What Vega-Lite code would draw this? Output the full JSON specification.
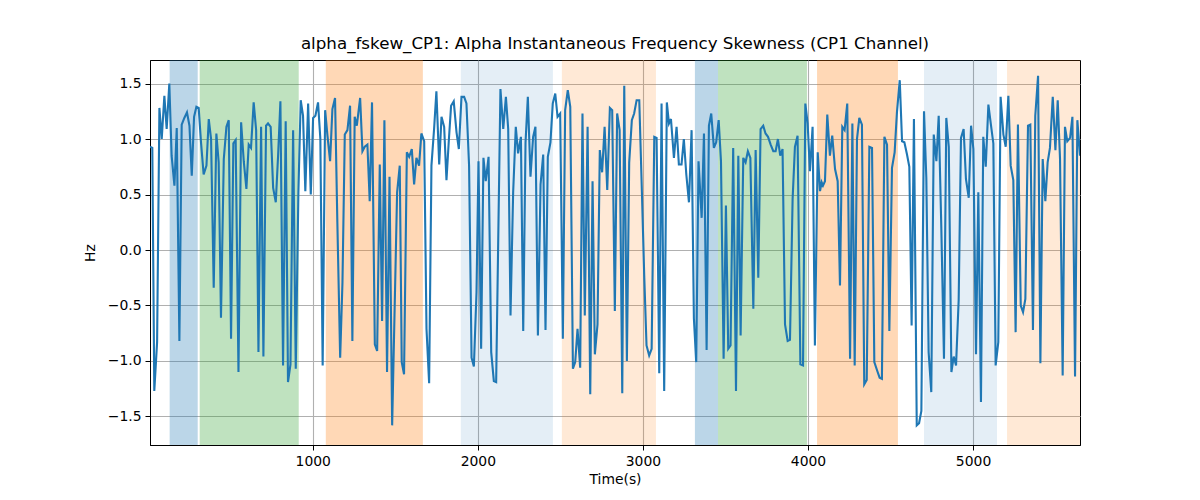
{
  "$schema": "https://vega.github.io/schema/vega-lite/v6.json",
  "width": 930,
  "height": 385,
  "autosize": "none",
  "padding": {"left": 150, "top": 60, "right": 120, "bottom": 55},
  "background": "white",
  "title": {
    "text": "alpha_fskew_CP1: Alpha Instantaneous Frequency Skewness (CP1 Channel)",
    "font": "DejaVu Sans",
    "fontSize": 16.7,
    "fontWeight": "normal",
    "color": "black",
    "anchor": "middle",
    "offset": 7
  },
  "config": {
    "view": {"stroke": "black", "strokeWidth": 1},
    "axis": {
      "labelFont": "DejaVu Sans",
      "titleFont": "DejaVu Sans",
      "labelFontSize": 13.9,
      "titleFontSize": 13.9,
      "titleFontWeight": "normal",
      "labelColor": "black",
      "titleColor": "black",
      "domainColor": "black",
      "tickColor": "black",
      "tickSize": 5,
      "labelPadding": 4,
      "gridColor": "#b0b0b0",
      "gridWidth": 1.1
    }
  },
  "datasets": {
    "bands": [
      {"start": 133, "end": 303, "kind": "blue"},
      {"start": 315, "end": 915, "kind": "green"},
      {"start": 1079, "end": 1667, "kind": "orange"},
      {"start": 1897, "end": 2455, "kind": "lightblue"},
      {"start": 2509, "end": 3079, "kind": "lightorange"},
      {"start": 3315, "end": 3455, "kind": "blue"},
      {"start": 3455, "end": 3994, "kind": "green"},
      {"start": 4055, "end": 4545, "kind": "orange"},
      {"start": 4703, "end": 5145, "kind": "lightblue"},
      {"start": 5206, "end": 5648, "kind": "lightorange"}
    ],
    "series": [
      {"t":14,"v":0.93},{"t":28,"v":0.92},{"t":40,"v":-1.27},{"t":57,"v":-0.83},{"t":71,"v":1.28},{"t":85,"v":1.0},{"t":101,"v":1.39},{"t":115,"v":1.09},{"t":131,"v":1.5},{"t":145,"v":0.85},{"t":162,"v":0.58},{"t":176,"v":1.1},{"t":192,"v":-0.82},{"t":206,"v":1.13},{"t":222,"v":1.19},{"t":238,"v":1.24},{"t":253,"v":1.12},{"t":267,"v":0.67},{"t":281,"v":1.2},{"t":295,"v":1.29},{"t":309,"v":1.28},{"t":323,"v":0.97},{"t":339,"v":0.68},{"t":356,"v":0.76},{"t":370,"v":1.18},{"t":384,"v":1.0},{"t":400,"v":-0.34},{"t":416,"v":1.05},{"t":430,"v":0.79},{"t":444,"v":-0.61},{"t":461,"v":0.82},{"t":477,"v":1.11},{"t":491,"v":1.17},{"t":505,"v":-0.8},{"t":519,"v":0.96},{"t":533,"v":0.99},{"t":550,"v":-1.1},{"t":566,"v":1.15},{"t":582,"v":0.8},{"t":598,"v":0.55},{"t":612,"v":0.95},{"t":626,"v":0.92},{"t":642,"v":1.33},{"t":657,"v":1.08},{"t":671,"v":-0.92},{"t":687,"v":1.11},{"t":701,"v":-0.96},{"t":717,"v":1.12},
      {"t":729,"v":1.14},{"t":745,"v":1.11},{"t":760,"v":0.56},{"t":776,"v":0.43},{"t":790,"v":0.85},{"t":804,"v":1.34},{"t":820,"v":-1.04},{"t":836,"v":1.16},{"t":850,"v":-1.19},{"t":865,"v":-1.03},{"t":881,"v":1.08},{"t":897,"v":-1.07},{"t":913,"v":0.52},{"t":927,"v":1.35},{"t":941,"v":1.21},{"t":955,"v":0.53},{"t":972,"v":1.32},{"t":988,"v":0.5},{"t":1002,"v":1.19},{"t":1016,"v":1.21},{"t":1032,"v":1.33},{"t":1046,"v":1.0},{"t":1060,"v":-1.04},{"t":1075,"v":1.26},{"t":1089,"v":1.03},{"t":1105,"v":0.8},{"t":1119,"v":1.27},{"t":1135,"v":1.37},{"t":1149,"v":0.25},{"t":1166,"v":-0.97},{"t":1180,"v":-0.29},{"t":1194,"v":1.04},{"t":1210,"v":1.08},{"t":1226,"v":1.3},{"t":1240,"v":-0.82},{"t":1254,"v":1.2},{"t":1267,"v":1.12},{"t":1287,"v":1.37},{"t":1301,"v":0.89},{"t":1315,"v":0.93},{"t":1331,"v":0.95},{"t":1345,"v":0.44},{"t":1359,"v":1.33},{"t":1376,"v":-0.85},{"t":1390,"v":-0.91},{"t":1406,"v":0.77},
      {"t":1420,"v":-0.64},{"t":1434,"v":1.17},{"t":1450,"v":-1.1},{"t":1465,"v":0.66},{"t":1481,"v":-1.58},{"t":1511,"v":0.52},{"t":1527,"v":0.76},{"t":1539,"v":-1.01},{"t":1553,"v":-1.12},{"t":1570,"v":0.88},{"t":1584,"v":0.84},{"t":1600,"v":0.91},{"t":1614,"v":0.59},{"t":1628,"v":0.83},{"t":1644,"v":0.76},{"t":1658,"v":1.05},{"t":1675,"v":0.98},{"t":1689,"v":-0.71},{"t":1705,"v":-1.2},{"t":1719,"v":0.76},{"t":1735,"v":1.09},{"t":1749,"v":1.43},{"t":1766,"v":0.77},{"t":1780,"v":1.2},{"t":1796,"v":1.11},{"t":1810,"v":0.63},{"t":1824,"v":0.98},{"t":1838,"v":1.3},{"t":1854,"v":1.34},{"t":1871,"v":1.06},{"t":1885,"v":0.91},{"t":1901,"v":1.38},{"t":1917,"v":1.38},{"t":1931,"v":1.32},{"t":1947,"v":0.76},{"t":1962,"v":-0.97},{"t":1976,"v":-1.05},{"t":1992,"v":-0.38},{"t":2004,"v":0.8},{"t":2020,"v":-0.89},{"t":2034,"v":0.83},{"t":2048,"v":0.62},{"t":2065,"v":0.84},{"t":2081,"v":-0.92},{"t":2097,"v":-1.18},{"t":2111,"v":-1.19},
      {"t":2137,"v":1.45},{"t":2154,"v":1.09},{"t":2170,"v":1.38},{"t":2184,"v":1.09},{"t":2198,"v":-0.59},{"t":2214,"v":0.52},{"t":2230,"v":1.11},{"t":2244,"v":0.87},{"t":2252,"v":0.94},{"t":2261,"v":1.02},{"t":2275,"v":-0.73},{"t":2289,"v":0.97},{"t":2303,"v":1.38},{"t":2319,"v":0.66},{"t":2335,"v":1.02},{"t":2349,"v":1.11},{"t":2364,"v":-0.77},{"t":2380,"v":0.59},{"t":2396,"v":0.86},{"t":2410,"v":-0.72},{"t":2424,"v":0.84},{"t":2440,"v":0.97},{"t":2454,"v":1.32},{"t":2469,"v":1.41},{"t":2483,"v":1.2},{"t":2499,"v":1.23},{"t":2515,"v":-0.8},{"t":2529,"v":1.26},{"t":2545,"v":1.44},{"t":2560,"v":1.29},{"t":2576,"v":-1.07},{"t":2590,"v":-1.01},{"t":2604,"v":-0.71},{"t":2620,"v":-1.06},{"t":2634,"v":1.23},{"t":2648,"v":-0.59},{"t":2665,"v":1.11},{"t":2681,"v":-1.3},{"t":2695,"v":0.62},{"t":2709,"v":-0.94},{"t":2725,"v":-0.67},{"t":2739,"v":0.9},{"t":2753,"v":0.7},{"t":2768,"v":1.11},{"t":2784,"v":0.54},{"t":2800,"v":1.28},{"t":2814,"v":1.26},{"t":2830,"v":-0.55},
      {"t":2844,"v":1.23},{"t":2859,"v":1.08},{"t":2875,"v":-1.29},{"t":2887,"v":1.48},{"t":2903,"v":-1.0},{"t":2917,"v":0.79},{"t":2933,"v":1.17},{"t":2947,"v":1.23},{"t":2962,"v":1.35},{"t":2978,"v":1.35},{"t":2994,"v":0.52},{"t":3008,"v":-0.23},{"t":3022,"v":-0.86},{"t":3038,"v":-0.95},{"t":3053,"v":-0.89},{"t":3069,"v":1.02},{"t":3083,"v":1.01},{"t":3099,"v":-1.11},{"t":3113,"v":1.32},{"t":3129,"v":-1.27},{"t":3145,"v":1.33},{"t":3158,"v":1.14},{"t":3170,"v":1.18},{"t":3188,"v":0.83},{"t":3204,"v":1.11},{"t":3218,"v":0.77},{"t":3234,"v":0.77},{"t":3248,"v":1.0},{"t":3263,"v":0.68},{"t":3279,"v":0.43},{"t":3295,"v":1.08},{"t":3309,"v":-0.62},{"t":3323,"v":-1.01},{"t":3337,"v":0.8},{"t":3356,"v":0.29},{"t":3370,"v":1.05},{"t":3386,"v":-0.9},{"t":3400,"v":1.12},{"t":3414,"v":1.23},{"t":3430,"v":0.92},{"t":3444,"v":0.97},{"t":3459,"v":1.17},{"t":3473,"v":0.8},{"t":3489,"v":-0.98},{"t":3503,"v":0.4},
      {"t":3517,"v":-0.89},{"t":3531,"v":-0.86},{"t":3547,"v":0.92},{"t":3564,"v":-1.27},{"t":3578,"v":0.85},{"t":3592,"v":-0.77},{"t":3608,"v":0.83},{"t":3622,"v":0.79},{"t":3636,"v":0.89},{"t":3651,"v":0.83},{"t":3669,"v":-0.53},{"t":3683,"v":0.9},{"t":3699,"v":-0.25},{"t":3713,"v":1.09},{"t":3729,"v":1.12},{"t":3743,"v":1.05},{"t":3758,"v":1.02},{"t":3774,"v":0.95},{"t":3790,"v":0.89},{"t":3804,"v":0.89},{"t":3818,"v":1.0},{"t":3832,"v":0.85},{"t":3846,"v":0.91},{"t":3861,"v":-0.67},{"t":3877,"v":-0.82},{"t":3891,"v":-0.81},{"t":3907,"v":0.46},{"t":3921,"v":0.93},{"t":3937,"v":1.03},{"t":3954,"v":-1.03},{"t":3970,"v":-1.04},{"t":3984,"v":1.32},{"t":3998,"v":1.14},{"t":4012,"v":0.71},{"t":4028,"v":1.11},{"t":4042,"v":-0.86},{"t":4059,"v":0.88},{"t":4073,"v":0.53},{"t":4083,"v":0.61},{"t":4091,"v":0.58},{"t":4103,"v":0.62},{"t":4117,"v":1.22},{"t":4133,"v":0.85},{"t":4147,"v":1.03},{"t":4164,"v":0.73},{"t":4180,"v":0.62},{"t":4194,"v":-0.32},
      {"t":4208,"v":1.11},{"t":4222,"v":1.08},{"t":4238,"v":1.32},{"t":4255,"v":-0.98},{"t":4269,"v":1.14},{"t":4283,"v":-1.04},{"t":4297,"v":1.0},{"t":4311,"v":1.19},{"t":4327,"v":1.13},{"t":4341,"v":-1.21},{"t":4356,"v":-1.17},{"t":4372,"v":0.93},{"t":4388,"v":0.92},{"t":4402,"v":-1.01},{"t":4420,"v":-1.09},{"t":4434,"v":-1.15},{"t":4448,"v":-1.16},{"t":4463,"v":1.02},{"t":4479,"v":0.95},{"t":4493,"v":-0.73},{"t":4509,"v":0.74},{"t":4525,"v":0.88},{"t":4539,"v":1.24},{"t":4556,"v":1.53},{"t":4570,"v":0.98},{"t":4584,"v":0.97},{"t":4600,"v":0.86},{"t":4614,"v":0.75},{"t":4628,"v":-0.68},{"t":4642,"v":1.18},{"t":4659,"v":-1.58},{"t":4673,"v":-1.56},{"t":4687,"v":-1.45},{"t":4703,"v":1.25},{"t":4717,"v":0.65},{"t":4731,"v":-0.92},{"t":4747,"v":-1.28},{"t":4762,"v":1.04},{"t":4778,"v":0.8},{"t":4792,"v":1.21},{"t":4808,"v":0.19},{"t":4824,"v":-0.98},{"t":4838,"v":1.19},{"t":4853,"v":0.93},{"t":4869,"v":-1.1},{"t":4883,"v":-0.96},{"t":4897,"v":-1.04},{"t":4913,"v":-0.45},
      {"t":4927,"v":1.01},{"t":4943,"v":1.09},{"t":4957,"v":0.64},{"t":4974,"v":0.47},{"t":4988,"v":1.12},{"t":5002,"v":0.91},{"t":5018,"v":-0.94},{"t":5032,"v":0.52},{"t":5048,"v":-1.37},{"t":5062,"v":1.02},{"t":5077,"v":0.75},{"t":5093,"v":1.31},{"t":5109,"v":1.12},{"t":5123,"v":0.96},{"t":5137,"v":-1.04},{"t":5153,"v":-0.83},{"t":5167,"v":1.38},{"t":5184,"v":1.04},{"t":5198,"v":0.93},{"t":5214,"v":1.39},{"t":5228,"v":0.76},{"t":5244,"v":0.63},{"t":5258,"v":-0.74},{"t":5272,"v":1.13},{"t":5289,"v":-0.5},{"t":5303,"v":-0.56},{"t":5317,"v":-0.44},{"t":5333,"v":1.12},{"t":5347,"v":1.13},{"t":5363,"v":-0.72},{"t":5377,"v":1.21},{"t":5394,"v":1.57},{"t":5408,"v":-1.02},{"t":5422,"v":0.82},{"t":5438,"v":0.44},{"t":5452,"v":0.79},{"t":5466,"v":0.92},{"t":5483,"v":1.38},{"t":5499,"v":0.9},{"t":5513,"v":1.35},{"t":5527,"v":0.82},{"t":5543,"v":-1.13},{"t":5557,"v":1.11},{"t":5571,"v":0.98},{"t":5588,"v":1.01},{"t":5602,"v":1.2},{"t":5618,"v":-1.14},{"t":5632,"v":1.17},{"t":5648,"v":0.85}
    ]
  },
  "layer": [
    {
      "data": {"name": "bands"},
      "mark": {"type": "rect", "strokeWidth": 0},
      "encoding": {
        "x": {
          "field": "start",
          "type": "quantitative",
          "scale": {"domain": [14, 5648], "nice": false, "zero": false},
          "axis": {
            "title": "Time(s)",
            "values": [1000, 2000, 3000, 4000, 5000],
            "format": "d",
            "titlePadding": 5
          }
        },
        "x2": {"field": "end"},
        "color": {
          "field": "kind",
          "type": "nominal",
          "scale": {
            "domain": ["blue", "green", "orange", "lightblue", "lightorange"],
            "range": ["#1f77b4", "#2ca02c", "#ff7f0e", "#1f77b4", "#ff7f0e"]
          },
          "legend": null
        },
        "opacity": {
          "field": "kind",
          "type": "ordinal",
          "scale": {
            "type": "ordinal",
            "domain": ["blue", "green", "orange", "lightblue", "lightorange"],
            "range": [0.3, 0.3, 0.3, 0.12, 0.17]
          },
          "legend": null
        }
      }
    },
    {
      "data": {"name": "series"},
      "mark": {"type": "line", "color": "#1f77b4", "strokeWidth": 2.1, "clip": true},
      "encoding": {
        "x": {"field": "t", "type": "quantitative"},
        "y": {
          "field": "v",
          "type": "quantitative",
          "scale": {"domain": [-1.757, 1.712], "nice": false, "zero": false},
          "axis": {
            "title": "Hz",
            "values": [-1.5, -1.0, -0.5, 0, 0.5, 1.0, 1.5],
            "labelExpr": "replace(format(datum.value, '.1f'), '-', '−')",
            "titlePadding": 10
          }
        }
      }
    }
  ]
}
